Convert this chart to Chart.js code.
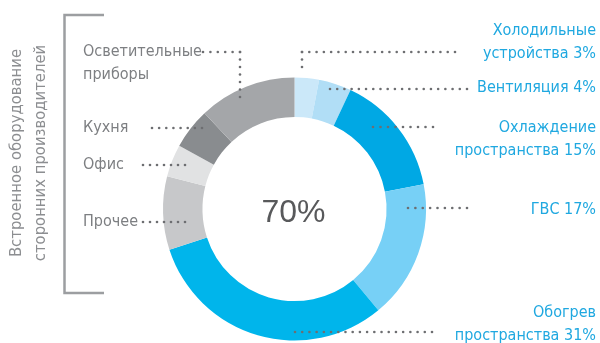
<!DOCTYPE html>
<html>
<head>
<meta charset="utf-8">
<script src="https://cdn.jsdelivr.net/npm/chart.js@4.4.1/dist/chart.umd.min.js"></script>
<style>
    html, body { margin: 0; padding: 0; background: #fff; }
    #wrap { position: relative; width: 600px; height: 343px; }
</style>
</head>
<body>
<div id="wrap"><canvas id="myChart" width="600" height="343"></canvas></div>
<script>
// energy use shares, clockwise from 12 o'clock
const categories = ['Холодильные устройства', 'Вентиляция', 'Охлаждение пространства', 'ГВС', 'Обогрев пространства', 'Прочее', 'Офис', 'Кухня', 'Осветительные приборы'];
const shares = [3, 4, 15, 17, 31, 9, 4, 5, 12];
const colors = ['#cbe8f9', '#b1def6', '#00a8e4', '#77d0f6', '#00b5eb', '#c7c8ca', '#e1e2e3', '#898c8f', '#a4a6a9'];
const blueCount = 5;
const groupTitle = ['Встроенное оборудование', 'сторонних производителей'];

const FONT = '"Liberation Sans Narrow", "DejaVu Sans Condensed", "Liberation Sans", sans-serif';

// label text lines, anchor and leader dots (x1,y1 -> x2,y2 pairs)
const rightLabels = [
    { lines: ['Холодильные', 'устройства ' + shares[0] + '%'], y: 31, dots: [[302, 67, 302, 52], [302, 52, 455, 52]] },
    { lines: ['Вентиляция ' + shares[1] + '%'], y: 88, dots: [[330, 89, 467, 89]] },
    { lines: ['Охлаждение', 'пространства ' + shares[2] + '%'], y: 128, dots: [[373, 127, 433, 127]] },
    { lines: ['ГВС ' + shares[3] + '%'], y: 210, dots: [[408, 208, 467, 208]] },
    { lines: ['Обогрев', 'пространства ' + shares[4] + '%'], y: 313, dots: [[295, 332, 432, 332]] }
];
const leftLabels = [
    { lines: ['Осветительные', 'приборы'], y: 52, dots: [[203, 52, 240, 52], [240, 52, 240, 97]] },
    { lines: ['Кухня'], y: 128, dots: [[152, 128, 202, 128]] },
    { lines: ['Офис'], y: 165, dots: [[143, 165, 185, 165]] },
    { lines: ['Прочее'], y: 222, dots: [[143, 222, 185, 222]] }
];

function dotted(ctx, x1, y1, x2, y2) {
    const len = Math.hypot(x2 - x1, y2 - y1);
    const n = Math.max(1, Math.round(len / 7.4));
    ctx.save();
    ctx.fillStyle = '#6d6e71';
    for (let i = 0; i <= n; i++) {
        const x = x1 + (x2 - x1) * i / n;
        const y = y1 + (y2 - y1) * i / n;
        ctx.beginPath();
        ctx.arc(x, y, 1.3, 0, Math.PI * 2);
        ctx.fill();
    }
    ctx.restore();
}

function drawLabels(ctx, list, x, align, color) {
    ctx.textAlign = align;
    list.forEach(l => {
        ctx.fillStyle = color;
        l.lines.forEach((t, i) => ctx.fillText(t, x, l.y + i * 22.5));
        l.dots.forEach(d => dotted(ctx, ...d));
    });
}

const annotations = {
    id: 'annotations',
    afterDraw(chart) {
        const ctx = chart.ctx;
        const arc = chart.getDatasetMeta(0).data[0];
        ctx.save();
        ctx.textBaseline = 'middle';

        // total share in the middle
        const total = shares.slice(0, blueCount).reduce((a, b) => a + b, 0);
        ctx.font = '32px "Liberation Sans", sans-serif';
        ctx.fillStyle = '#58595b';
        ctx.textAlign = 'center';
        ctx.fillText(total + '%', arc.x - 1, arc.y + 4);

        ctx.font = '16px ' + FONT;
        drawLabels(ctx, rightLabels, 596, 'right', '#1fa8e0');
        drawLabels(ctx, leftLabels, 83, 'left', '#7d7f82');

        // bracket around the grey group
        ctx.strokeStyle = '#9c9ea1';
        ctx.lineWidth = 2.5;
        ctx.beginPath();
        ctx.moveTo(104, 15);
        ctx.lineTo(64.5, 15);
        ctx.lineTo(64.5, 293);
        ctx.lineTo(104, 293);
        ctx.stroke();

        ctx.translate(0, 153);
        ctx.rotate(-Math.PI / 2);
        ctx.font = '16.5px ' + FONT;
        ctx.textAlign = 'center';
        ctx.fillStyle = '#8c8e91';
        ctx.fillText(groupTitle[0], 0, 17);
        ctx.fillText(groupTitle[1], 0, 41);
        ctx.restore();
    }
};

new Chart(document.getElementById('myChart'), {
    type: 'doughnut',
    data: {
        labels: categories,
        datasets: [{
            data: shares,
            backgroundColor: colors,
            borderWidth: 0
        }]
    },
    options: {
        responsive: false,
        animation: false,
        cutout: '70%',
        layout: { padding: { left: 163, right: 174, top: 77.5, bottom: 2.5 } },
        plugins: {
            legend: { display: false },
            tooltip: { enabled: false }
        }
    },
    plugins: [annotations]
});
</script>
</body>
</html>
